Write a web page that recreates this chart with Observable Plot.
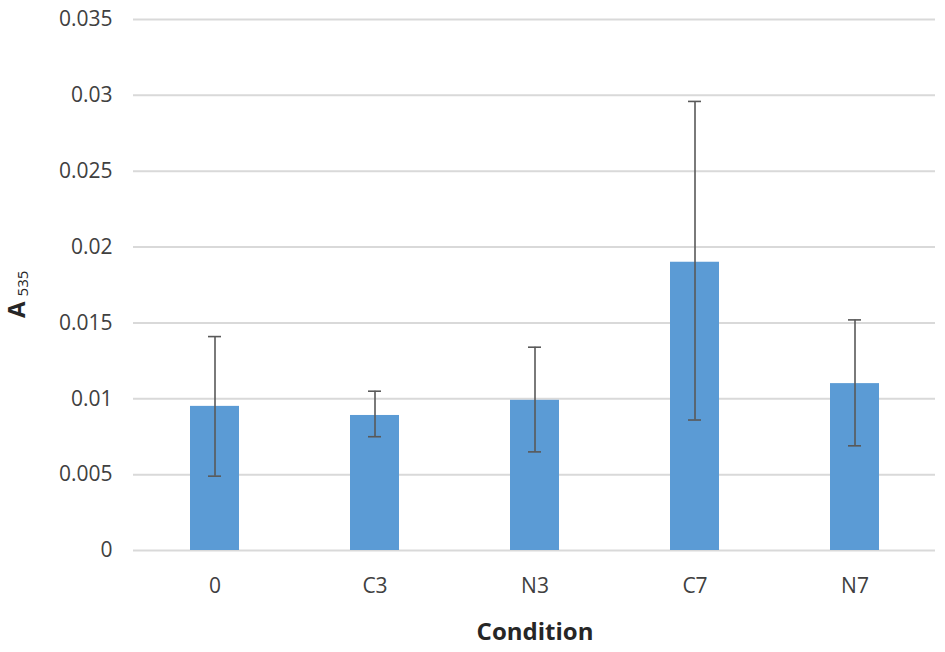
<!DOCTYPE html>
<html>
<head>
<meta charset="utf-8">
<script src="https://cdn.jsdelivr.net/npm/d3@7"></script>
<script src="https://cdn.jsdelivr.net/npm/@observablehq/plot@0.6"></script>
<style>
  html, body { margin: 0; padding: 0; background: #fff; }
  #chart { width: 945px; height: 652px; }
</style>
</head>
<body>
<div id="chart"></div>
<script>
const categories = ["0", "C3", "N3", "C7", "N7"];
const means = [0.0095, 0.0089, 0.0099, 0.0190, 0.0110];
const upper = [0.0141, 0.0105, 0.0134, 0.0296, 0.0152];
const lower = [0.0049, 0.0075, 0.0065, 0.0086, 0.0069];
const yTicks = [0, 0.005, 0.01, 0.015, 0.02, 0.025, 0.03, 0.035];
const yTickLabels = ["0", "0.005", "0.01", "0.015", "0.02", "0.025", "0.03", "0.035"];

const data = categories.map((c, i) => ({cat: c, mean: means[i], hi: upper[i], lo: lower[i]}));

const font = "'Open Sans', 'Noto Sans', sans-serif";

const plot = Plot.plot({
  width: 945,
  height: 652,
  marginLeft: 133,
  marginRight: 10,
  marginTop: 19,
  marginBottom: 102,
  style: {fontFamily: font, background: "#fff"},
  x: {domain: categories, paddingInner: 0.695, paddingOuter: 0.3475, label: null},
  y: {domain: [0, 0.035], label: null},
  marks: [
    Plot.gridY(yTicks, {stroke: "#d9d9d9", strokeWidth: 2, strokeOpacity: 1}),
    Plot.barY(data, {x: "cat", y: "mean", fill: "#5b9bd5"}),
    Plot.ruleX(data, {x: "cat", y1: "lo", y2: "hi", stroke: "#595959", strokeWidth: 1.6}),
    Plot.tickY(data, {x: "cat", y: "hi", stroke: "#595959", strokeWidth: 1.6, insetLeft: 18, insetRight: 18}),
    Plot.tickY(data, {x: "cat", y: "lo", stroke: "#595959", strokeWidth: 1.6, insetLeft: 18, insetRight: 18}),
    Plot.axisY({ticks: yTicks, tickSize: 0, tickPadding: 21, tickFormat: (d) => yTickLabels[yTicks.indexOf(d)],
      fontSize: 21, fill: "#404040", label: null}),
    Plot.axisX({tickSize: 0, tickPadding: 28, fontSize: 21, fill: "#404040", label: null})
  ]
});

const svg = d3.select(plot);
svg.append("text")
  .attr("x", 535)
  .attr("y", 640)
  .attr("text-anchor", "middle")
  .style("font-family", font)
  .style("font-size", "24px")
  .style("font-weight", "bold")
  .attr("fill", "#262626")
  .text("Condition");

const ylab = svg.append("text")
  .attr("transform", "translate(25,318) rotate(-90)")
  .attr("text-anchor", "start")
  .style("font-family", font)
  .attr("fill", "#262626");
ylab.append("tspan").style("font-size", "24px").style("font-weight", "bold").text("A");
ylab.append("tspan").attr("dx", 5).attr("dy", 3).style("font-size", "15px").text("535");

document.getElementById("chart").appendChild(plot);
</script>
</body>
</html>
